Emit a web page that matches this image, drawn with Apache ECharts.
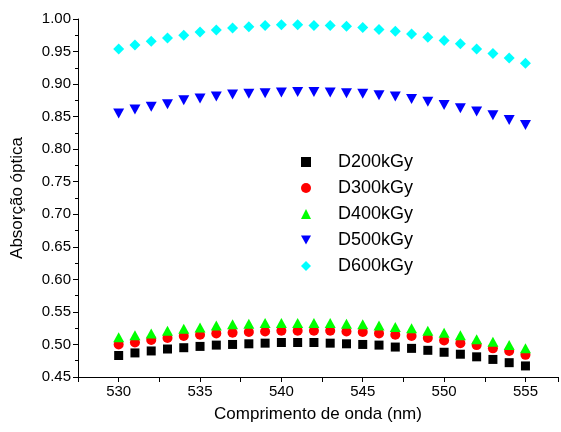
<!DOCTYPE html>
<html>
<head>
<meta charset="utf-8">
<script src="https://cdn.jsdelivr.net/npm/echarts@6/dist/echarts.min.js"></script>
<style>html,body{margin:0;padding:0;background:#fff}#c{width:561px;height:432px}</style>
</head>
<body>
<div id="c"></div>
<script>
var wavelengths = [530,531,532,533,534,535,536,537,538,539,540,541,542,543,544,545,546,547,548,549,550,551,552,553,554,555];
var d200 = [0.483,0.487,0.490,0.493,0.495,0.497,0.499,0.500,0.501,0.502,0.503,0.503,0.503,0.502,0.501,0.500,0.499,0.496,0.494,0.491,0.488,0.485,0.481,0.477,0.472,0.467];
var d300 = [0.500,0.503,0.507,0.510,0.513,0.515,0.517,0.518,0.519,0.520,0.521,0.521,0.521,0.521,0.520,0.519,0.517,0.515,0.513,0.510,0.506,0.502,0.499,0.494,0.490,0.484];
var d400 = [0.511,0.514,0.517,0.521,0.524,0.526,0.529,0.531,0.532,0.533,0.533,0.533,0.533,0.533,0.532,0.531,0.529,0.527,0.525,0.521,0.518,0.514,0.508,0.504,0.499,0.494];
var d500 = [0.855,0.861,0.865,0.869,0.875,0.878,0.881,0.884,0.885,0.886,0.887,0.888,0.888,0.887,0.886,0.885,0.883,0.881,0.877,0.873,0.868,0.863,0.858,0.852,0.845,0.837];
var d600 = [0.954,0.960,0.966,0.971,0.975,0.980,0.983,0.986,0.988,0.990,0.991,0.991,0.990,0.990,0.989,0.987,0.984,0.981,0.977,0.972,0.967,0.962,0.954,0.947,0.940,0.932];
var seriesNames = ['D200kGy','D300kGy','D400kGy','D500kGy','D600kGy'];
var xTitle = 'Comprimento de onda (nm)';
var yTitle = 'Absorção óptica';

function pairs(ys){ return wavelengths.map(function(x,i){return [x, ys[i]];}); }
var font = "'Liberation Sans', Arial, sans-serif";
var chart = echarts.init(document.getElementById('c'), null, {renderer:'canvas'});
var triDown = 'path://M0,0 L10,0 L5,9 Z';
var diamond = 'path://M5,0 L10,5 L5,10 L0,5 Z';
chart.setOption({
  animation:false,
  backgroundColor:'#fff',
  grid:{left:78, top:19, right:0, bottom:55},
  legend:{
    orient:'vertical', left:296, top:148, itemGap:8, itemWidth:10, itemHeight:10,
    textStyle:{fontFamily:font, fontSize:18, lineHeight:18, color:'#000', padding:[0,0,0,22]},
    data:seriesNames
  },
  xAxis:{
    type:'value', min:527.5, max:557, interval:2.5,
    name:xTitle, nameLocation:'middle', nameGap:29,
    nameTextStyle:{fontFamily:font, fontSize:17, color:'#000'},
    axisLine:{lineStyle:{color:'#000', width:1}},
    axisTick:{show:true, inside:false, length:5, lineStyle:{color:'#000'}},
    axisLabel:{fontFamily:font, fontSize:15, color:'#000', margin:7,
      formatter:function(v){ return (Math.abs(v % 5) < 1e-6) ? String(v) : ''; }},
    splitLine:{show:false}
  },
  yAxis:{
    type:'value', min:0.45, max:1.00, interval:0.05,
    name:yTitle, nameLocation:'middle', nameGap:52, nameRotate:90,
    nameTextStyle:{fontFamily:font, fontSize:17, color:'#000'},
    axisLine:{show:true, lineStyle:{color:'#000', width:1}},
    axisTick:{show:true, inside:false, length:5, lineStyle:{color:'#000'}},
    minorTick:{show:true, splitNumber:2, length:3, lineStyle:{color:'#000'}},
    axisLabel:{fontFamily:font, fontSize:15, color:'#000', margin:7,
      formatter:function(v){ return v.toFixed(2); }},
    splitLine:{show:false}
  },
  series:[
    {name:seriesNames[0], type:'scatter', data:pairs(d200), symbol:'rect', symbolSize:9, itemStyle:{color:'#000000', opacity:1}},
    {name:seriesNames[1], type:'scatter', data:pairs(d300), symbol:'circle', symbolSize:10, itemStyle:{color:'#ff0000', opacity:1}},
    {name:seriesNames[2], type:'scatter', data:pairs(d400), symbol:'triangle', symbolSize:[11,10], itemStyle:{color:'#00ff00', opacity:1}},
    {name:seriesNames[3], type:'scatter', data:pairs(d500), symbol:triDown, symbolSize:[11,10], itemStyle:{color:'#0000ff', opacity:1}},
    {name:seriesNames[4], type:'scatter', data:pairs(d600), symbol:diamond, symbolSize:[11,11], itemStyle:{color:'#00ffff', opacity:1}}
  ]
});
</script>
</body>
</html>
